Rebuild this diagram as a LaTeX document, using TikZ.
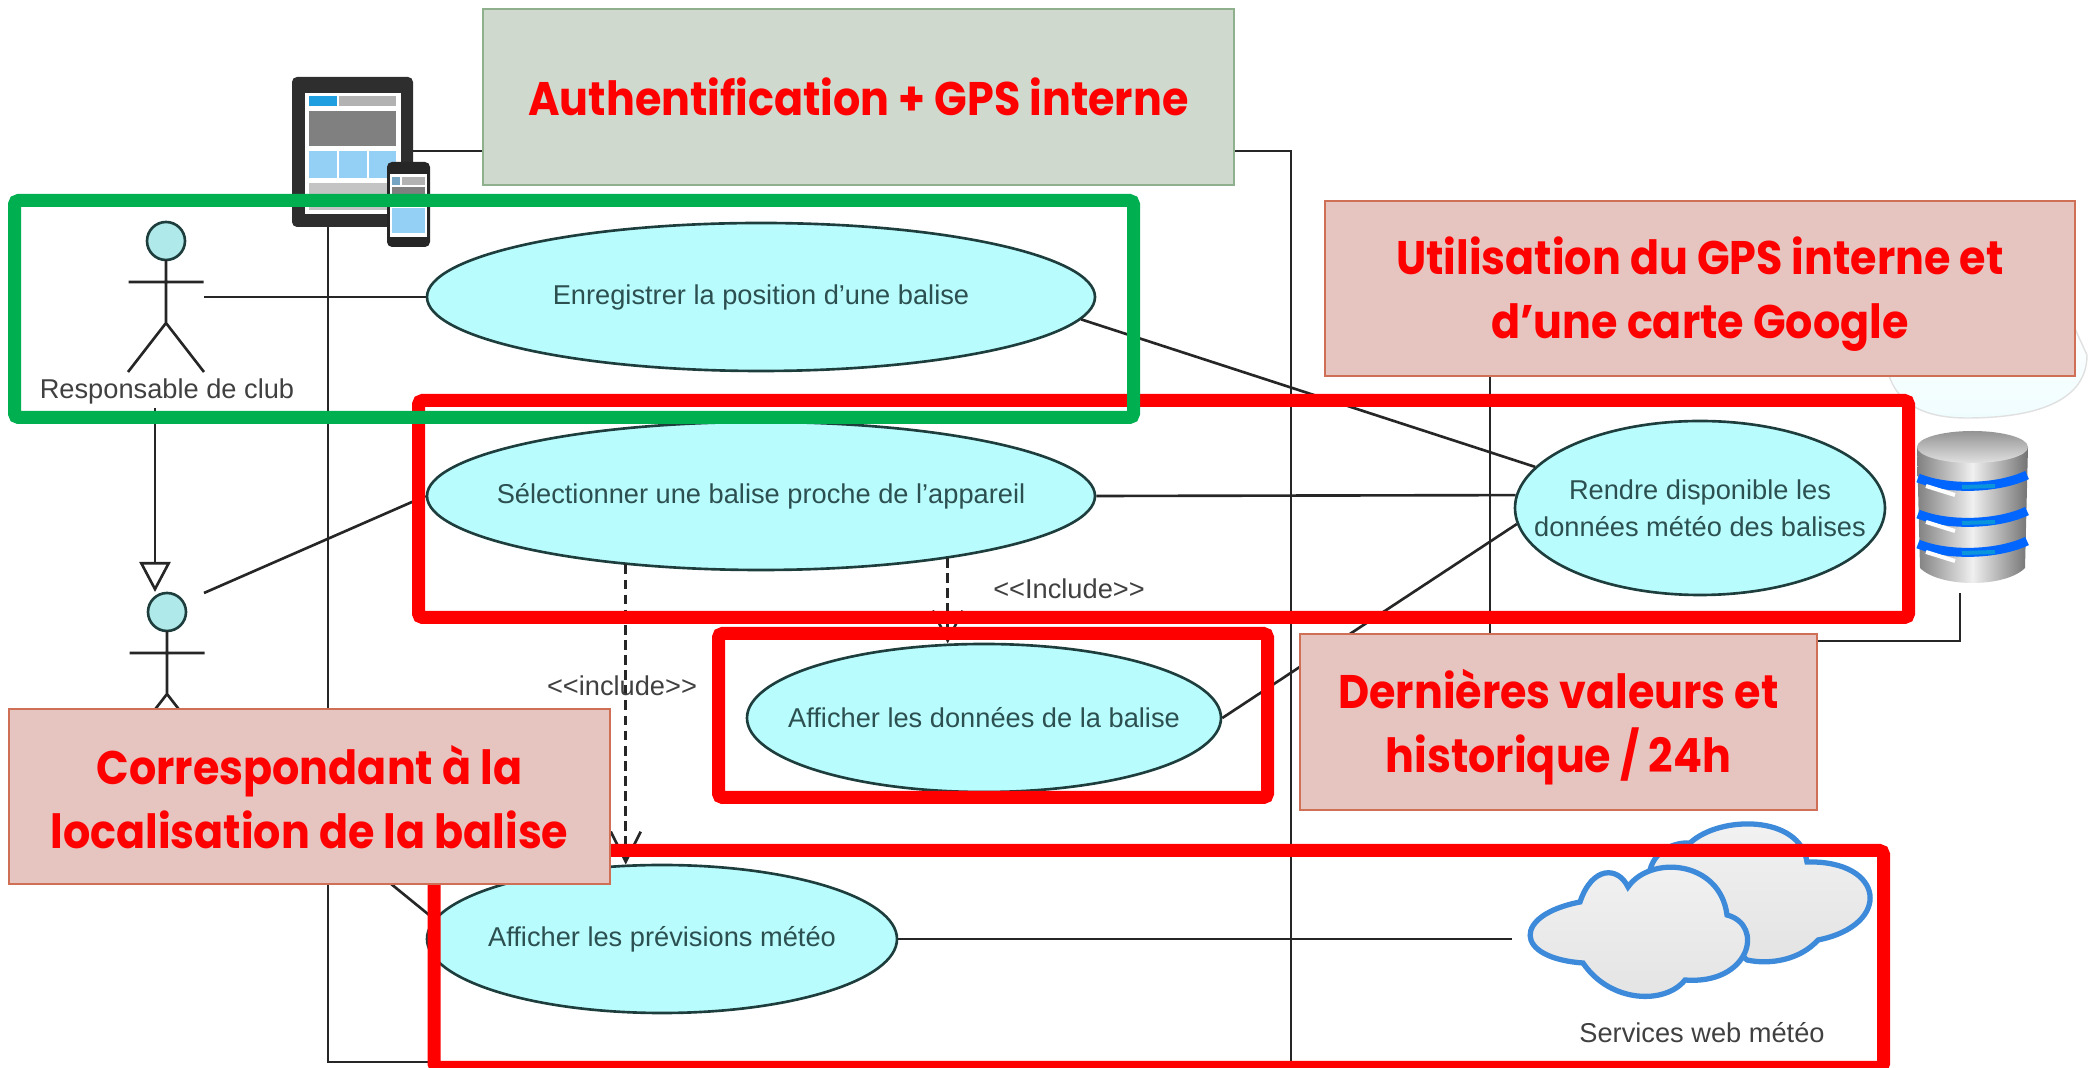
\documentclass[tikz,border=0pt]{standalone}
\usepackage{fontspec}
\setmainfont{Liberation Sans}
\newfontfamily\notefont{Poppins}[FakeStretch=.91]
\usetikzlibrary{shapes.geometric,arrows.meta}
\definecolor{usefill}{HTML}{B9FCFD}
\definecolor{useline}{HTML}{1E3D3D}
\definecolor{usetext}{HTML}{2C4F50}
\definecolor{salmon}{HTML}{E6C5C0}
\definecolor{salmonline}{HTML}{CF6F55}
\definecolor{sage}{HTML}{CFD9CD}
\definecolor{sageline}{HTML}{8FB08C}
\definecolor{framegreen}{HTML}{00AF50}
\definecolor{cloudline}{HTML}{3D8ADA}
\definecolor{cellblue}{HTML}{94CFF5}
\definecolor{tabblue}{HTML}{1F9FE0}
\tikzset{
  usecase/.style={ellipse,draw=useline,line width=.75pt,fill=usefill,text=usetext,inner ysep=0pt,inner xsep=-1cm,
    minimum width=6.68cm,minimum height=1.48cm,align=center,font=\fontsize{7.75}{10.6}\selectfont},
  notebox/.style={rectangle,draw=salmonline,line width=.7pt,fill=salmon,text=red,inner sep=0pt,
    minimum width=7.5cm,minimum height=1.75cm,align=center,font=\notefont\bfseries\fontsize{13.4}{18.2}\selectfont},
  label/.style={text=black!75,inner sep=0pt,font=\fontsize{7.75}{10.6}\selectfont},
  assoc/.style={line width=.75pt,black!85},
  inclusion/.style={line width=.75pt,black!85,dash pattern=on 2.8pt off 1.5pt,-{Straight Barb[length=.3cm,width=.3cm]}},
  redframe/.style={draw=red,line width=.13cm,rounded corners=.04cm},
  greenframe/.style={draw=framegreen,line width=.13cm,rounded corners=.04cm},
  actorman/.pic={
    \node[circle,draw=useline,line width=.75pt,fill=usefill!85!gray,minimum size=.38cm,inner sep=0pt] (-head) at (0,0) {};
    \draw[line width=.75pt,black!85] (0,-.19) -- (0,-.82) (-.375,-.41) -- (.375,-.41)
      (-.38,-1.31) -- (0,-.82) -- (.38,-1.31);
  }
}
\begin{document}
\begin{tikzpicture}
  \useasboundingbox (0,0) rectangle (20.98,10.68);

  % system frames
  \draw[assoc] (3.28,9.17) rectangle (12.91,.06);
  \coordinate (servtop) at (14.90,6.92);
  \coordinate (servbot) at (14.90,4.34);
  \coordinate (servleft) at (18.17,4.27);
  \coordinate (servright) at (19.60,4.27);
  \coordinate (servfoot) at (19.60,4.75);
  \draw[assoc] (servtop) -- (servbot) (servleft) -- (servright) -- (servfoot);

  % use cases
  \node[usecase] (enreg) at (7.61,7.71) {Enregistrer la position d'une balise};
  \node[usecase] (select) at (7.61,5.72) {Sélectionner une balise proche de l'appareil};
  \node[usecase,minimum width=4.74cm] (donnees) at (9.84,3.50) {Afficher les données de la balise};
  \node[usecase,minimum width=4.70cm] (previs) at (6.62,1.29) {Afficher les prévisions météo};
  \node[usecase,minimum width=3.70cm,minimum height=1.74cm] (rendre) at (17.00,5.60) {Rendre disponible les\\données météo des balises};

  % actors
  \pic (resp) at (1.66,8.27) {actorman};
  \pic (pilot) at (1.67,4.56) {actorman};
  \node[label] (resplabel) at (1.67,6.77) {Responsable de club};
  \coordinate (resphand) at (2.04,7.71);
  \coordinate (respfoot) at (1.55,6.60);
  \coordinate (pilottop) at (1.55,4.76);
  \coordinate (pilotup) at (2.04,4.75);
  \coordinate (pilotdown) at (1.90,3.48);
  \coordinate (meteoend) at (15.12,1.29);

  % connectors
  \draw[assoc] (resphand) -- (enreg.west);
  \draw[assoc] (pilotup) -- (select.west);
  \draw[assoc] (pilotdown) -- (previs.175);
  \draw[line width=.75pt,black!85,-{Triangle[open,length=.30cm,width=.31cm]}] (respfoot) -- (pilottop);
  \draw[assoc] (enreg.-4) -- (rendre.166);
  \draw[assoc] (select.east) -- (rendre.176);
  \draw[assoc] (donnees.east) -- (rendre.185);
  \draw[assoc] (previs.east) -- (meteoend);
  \draw[inclusion] (donnees.116.5 |- select.-18.3) -- (donnees.116.5);
  \draw[inclusion] (previs.116 |- select.206.6) -- (previs.116);
  \node[label] (incone) at (10.69,4.79) {<{}<Include>{}>};
  \node[label] (inctwo) at (6.22,3.82) {<{}<include>{}>};

  % tablet and phone
  \fill[black!82,rounded corners=.05cm] (2.92,9.91) rectangle (4.13,8.41);
  \fill[white] (3.05,9.75) rectangle (4.01,8.54);
  \fill[tabblue] (3.09,9.72) rectangle (3.37,9.62);
  \fill[black!30] (3.39,9.72) rectangle (3.96,9.62);
  \fill[black!50] (3.09,9.57) rectangle (3.96,9.22);
  \foreach \xa/\xb in {3.09/3.37,3.39/3.67,3.69/3.96}
    \fill[cellblue] (\xa,9.17) rectangle (\xb,8.90);
  \fill[black!23] (3.09,8.85) rectangle (3.96,8.58);
  \fill[black!85,rounded corners=.05cm] (3.87,9.06) rectangle (4.30,8.21);
  \fill[white] (3.90,8.94) rectangle (4.27,8.31);
  \fill[cellblue!80!black] (3.92,8.91) rectangle (4.00,8.83);
  \fill[black!30] (4.02,8.91) rectangle (4.25,8.83);
  \fill[black!50] (3.92,8.81) rectangle (4.25,8.68);
  \fill[cellblue] (3.92,8.60) rectangle (4.25,8.35);

  % server cloud and database
  \draw[black!12,top color=white,bottom color=blue!12!cyan!6!white] (18.85,7.2) .. controls (18.85,6.60) and (19.30,6.50) .. (19.67,6.50)
    .. controls (20.20,6.50) and (20.87,6.60) .. (20.87,7.13) -- (20.70,7.5) -- cycle;
  \shade[left color=black!50,right color=black!55,middle color=black!6] (19.17,6.21) -- (19.20,5.0)
    .. controls (19.4,4.80) and (20.05,4.80) .. (20.25,5.0) -- (20.28,6.21) -- cycle;
  \foreach \y in {5.85,5.49,5.19} {
    \draw[line width=.09cm,blue!60!cyan] (19.18,\y+.05) .. controls (19.5,\y-.08) and (20,\y-.05) .. (20.27,\y+.08);
    \draw[line width=.04cm,cyan!80!blue] (19.62,\y-.04) -- (19.95,\y-.03);
    \draw[white,line width=.04cm] (19.26,\y-.03) -- (19.55,\y-.12);
  }
  \shade[top color=black!42,bottom color=black!12] (19.725,6.21) ellipse (.555 and .16);

  % weather clouds
  \draw[cloudline,line width=1.5pt,top color=black!5,bottom color=black!11]
    (16.50,1.98) .. controls (16.55,2.18) and (16.75,2.26) .. (16.90,2.25)
    .. controls (17.20,2.53) and (18.00,2.53) .. (18.07,2.06)
    .. controls (18.85,2.08) and (18.93,1.43) .. (18.18,1.28)
    .. controls (18.00,1.08) and (17.70,1.03) .. (17.47,1.08) -- cycle;
  \draw[cloudline,line width=1.5pt,top color=black!5,bottom color=black!11]
    (15.83,1.05) .. controls (15.13,1.10) and (15.13,1.53) .. (15.80,1.66)
    .. controls (15.92,2.02) and (16.18,2.02) .. (16.28,1.81)
    .. controls (16.50,2.13) and (17.20,2.08) .. (17.27,1.53)
    .. controls (17.65,1.43) and (17.50,.83) .. (16.85,.88)
    .. controls (16.65,.63) and (16.10,.65) .. (15.83,1.05) -- cycle;
  \node[label] (webmeteo) at (17.02,.35) {Services web météo};

  % frames
  \draw[redframe] (4.185,6.675) rectangle (19.085,4.505);
  \draw[redframe] (7.185,4.345) rectangle (12.675,2.705);
  \draw[redframe] (4.34,2.175) rectangle (18.835,.005);
  \draw[greenframe] (.145,8.675) rectangle (11.335,6.505);

  % notes
  \node[notebox,draw=sageline,fill=sage,minimum width=7.51cm,minimum height=1.76cm] (auth) at (8.585,9.71) {Authentification + GPS interne};
  \node[notebox] (util) at (17.00,7.795) {\rule{0pt}{14pt}Utilisation du GPS interne et\\d’une carte Google};
  \node[notebox,minimum width=5.17cm,minimum height=1.76cm] (dern) at (15.585,3.46) {\rule{0pt}{14pt}Dernières valeurs et\\historique / 24h};
  \node[notebox,minimum width=6.01cm] (corresp) at (3.095,2.715) {\rule{0pt}{11.3pt}Correspondant à la\\localisation de la balise};
\end{tikzpicture}
\end{document}
